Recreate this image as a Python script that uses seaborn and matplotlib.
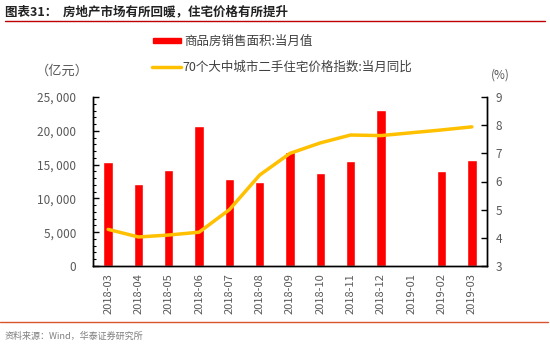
import numpy as np
import pandas as pd
import matplotlib
matplotlib.use("Agg")
import matplotlib.pyplot as plt
import seaborn as sns
from matplotlib.ticker import FuncFormatter, MultipleLocator
from matplotlib.lines import Line2D
from matplotlib.patches import Rectangle

sns.set_theme(style="white")
plt.rcParams['font.family'] = ['Noto Sans CJK SC', 'DejaVu Sans']
plt.rcParams['axes.unicode_minus'] = False

months = ["2018-03", "2018-04", "2018-05", "2018-06", "2018-07", "2018-08", "2018-09",
          "2018-10", "2018-11", "2018-12", "2019-01", "2019-02", "2019-03"]
sales_area = [15440, 12060, 14150, 20750, 12800, 12500, 16800,
              13820, 15490, 23040, np.nan, 14070, 15690]
price_yoy = [4.3, 4.03, 4.1, 4.2, 5.0, 6.23, 7.0, 7.37, 7.65, 7.63, 7.73, 7.83, 7.94]

bar_label = "商品房销售面积:当月值"
line_label = "70个大中城市二手住宅价格指数:当月同比"
title = "图表31：  房地产市场有所回暖，住宅价格有所提升"
source = "资料来源：Wind，华泰证券研究所"

df = pd.DataFrame({"month": months, "sales": sales_area, "yoy": price_yoy})
df["pos"] = np.arange(len(months))

fig = plt.figure(figsize=(5.5, 3.45), dpi=100)
ax = fig.add_axes([93/550, 1-266/345, (487-93)/550, (266-97)/345])

sns.barplot(data=df, x="month", y="sales", order=months, color="#FF0000",
            width=0.31, saturation=1, ax=ax)
ax2 = ax.twinx()
sns.lineplot(data=df, x="pos", y="yoy", color="#FFC000", linewidth=2.5, ax=ax2)

gray = "#595959"
ax.set_xlim(-0.5, len(months) - 0.5)
ax.set_ylim(0, 25000)
ax2.set_ylim(3, 9)
ax.set_xlabel("")
ax.set_ylabel("")
ax2.set_xlabel("")
ax2.set_ylabel("")

ax.yaxis.set_major_locator(MultipleLocator(5000))
ax.yaxis.set_minor_locator(MultipleLocator(1000))
ax.yaxis.set_major_formatter(FuncFormatter(lambda v, p: f"{int(v):,}".replace(",", ", ")))
ax2.yaxis.set_major_locator(MultipleLocator(1))

ax.set_xticks(np.arange(len(months)))
ax.set_xticklabels(months, rotation=90, fontsize=8, color=gray)
ax.set_xticks(np.arange(-0.5, len(months)), minor=True)
ax.tick_params(axis="x", which="major", length=0, pad=5)
ax.tick_params(axis="x", which="minor", direction="inout", length=6, width=1, color="black")
ax.tick_params(axis="y", which="major", direction="in", length=4, width=1, color="black",
               labelsize=8.5, labelcolor=gray, pad=12, left=True)
ax.tick_params(axis="y", which="minor", direction="in", length=2.5, width=0.8, color="black", left=True)
ax2.tick_params(axis="y", which="major", direction="in", length=4, width=1, color="black",
                labelsize=8.5, labelcolor=gray, pad=6, right=True)

for a in (ax, ax2):
    a.spines["top"].set_visible(False)
    for s in ("left", "right", "bottom"):
        a.spines[s].set_color("black")
        a.spines[s].set_linewidth(1)
ax.grid(False)
ax2.grid(False)

# Title and rules
fig.text(5/550, 1-12/345, title, fontsize=9, fontweight="bold", color="#222222",
         ha="left", va="center")
fig.add_artist(Line2D([5/550, 545/550], [1-21/345, 1-21/345], color="#C00000", linewidth=1))
fig.add_artist(Line2D([0/550, 548/550], [1-322/345, 1-322/345], color="#D9542B", linewidth=1))
fig.text(5/550, 1-336/345, source, fontsize=6.5, color="#7f7f7f", ha="left", va="center")

# Legend (manual)
fig.add_artist(Rectangle((153/550, 1-43/345), 28/550, 5/345, color="#FF0000",
                         transform=fig.transFigure))
fig.text(184/550, 1-41/345, bar_label, fontsize=9, color="#404040", ha="left", va="center")
fig.add_artist(Line2D([152/550, 181/550], [1-67/345, 1-67/345], color="#FFC000", linewidth=2.5))
fig.text(182/550, 1-67/345, line_label, fontsize=9, color="#404040", ha="left", va="center")

# Unit labels
fig.text(62/550, 1-71/345, "（亿元）", fontsize=9.5, color=gray, ha="center", va="center")
fig.text(500/550, 1-75/345, "(%)", fontsize=8.5, color=gray, ha="center", va="center")

fig.savefig("out.png", dpi=100)
